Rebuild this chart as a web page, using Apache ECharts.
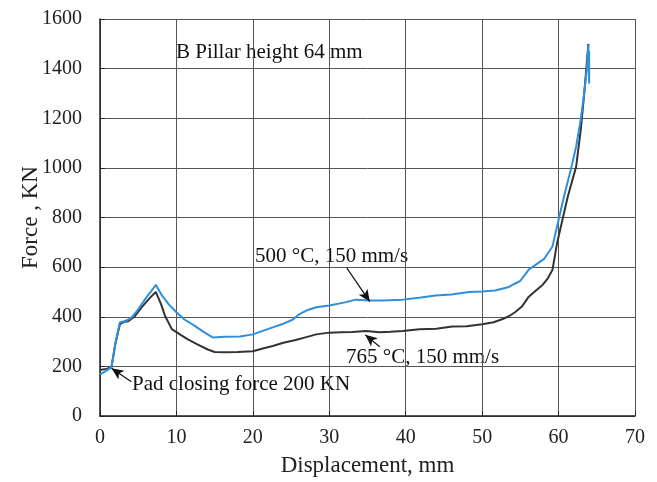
<!DOCTYPE html>
<html><head><meta charset="utf-8">
<script src="https://cdn.jsdelivr.net/npm/echarts@6/dist/echarts.min.js"></script>
<style>html,body{margin:0;padding:0;background:#fff}#c{width:657px;height:482px}</style>
</head><body><div id="c"></div>
<script>
var xTicks = [0, 10, 20, 30, 40, 50, 60, 70];
var yTicks = [0, 200, 400, 600, 800, 1000, 1200, 1400, 1600];
var series500 = [[0,168],[0.8,182],[1.5,197],[2.0,290],[2.6,377],[3.2,382],[3.7,388],[4.1,395],[5,430],[6,475],[7,515],[7.3,529],[8.1,486],[9,450],[10,418],[11,390],[12.4,363],[13.5,340],[14.8,316],[16.3,319],[18.3,320],[20,329],[21,340],[22.6,357],[24,372],[25.2,388],[26.1,411],[27,425],[28.3,438],[30,445],[32.2,459],[33.5,469],[35.3,465],[37,465],[39.6,469],[42,478],[43.9,486],[46,490],[48.3,500],[50,502],[51.7,506],[53.5,520],[54.2,532],[55,545],[56.1,590],[56.8,605],[58.1,633],[59.2,683],[60,790],[60.7,884],[61.6,992],[62.3,1086],[62.9,1194],[63.3,1288],[63.7,1400],[63.9,1496],[64.0,1340],[64.0,1470]];
var series765 = [[0,185],[0.8,190],[1.5,197],[2.0,290],[2.6,370],[3.2,380],[3.7,382],[4.5,400],[5.5,440],[6.5,475],[7.3,500],[8,450],[8.5,404],[9.4,350],[10.5,328],[11.5,309],[12.8,288],[14.1,268],[15,258],[16.3,257],[18,258],[20,261],[21.3,272],[22.6,282],[24,295],[25.6,306],[27,318],[28.3,329],[30,336],[31.5,338],[33,339],[34.8,343],[36.6,338],[38,340],[39.6,343],[41.8,350],[44,352],[46.1,361],[48,362],[50,370],[51.5,378],[52.6,390],[53.5,402],[54.3,418],[55.2,441],[56.1,481],[57,505],[57.9,528],[58.6,555],[59.2,589],[59.8,696],[60.5,790],[61.2,884],[62.3,1005],[62.9,1153],[63.4,1314],[63.9,1500]];
var labels = {title: 'B Pillar height 64 mm', s500: '500 °C, 150 mm/s', s765: '765 °C, 150 mm/s', pad: 'Pad closing force 200 KN'};
var arrows = {
  s500: [[32.3, 596], [35.3, 461]],
  s765: [[36.6, 279], [34.7, 327]],
  pad: [[4.1, 138], [1.5, 192]]
};
var FONT = '"Liberation Serif", "Times New Roman", serif';
var chart = echarts.init(document.getElementById('c'));
function arrowLine(a) {
  return [{coord: a[0], symbol: 'none'}, {coord: a[1], symbol: 'arrow', symbolSize: [8, 12]}];
}
chart.setOption({
  animation: false,
  backgroundColor: '#fff',
  grid: {left: 100, right: 22, top: 19, bottom: 66},
  xAxis: {
    type: 'value', min: 0, max: 70, interval: 10,
    name: 'Displacement, mm', nameLocation: 'middle', nameGap: 38,
    nameTextStyle: {fontFamily: FONT, fontSize: 23, color: '#222'},
    axisLine: {show: true, lineStyle: {color: '#222', width: 1.5}},
    axisTick: {show: true, inside: true, length: 5, lineStyle: {color: '#222'}},
    axisLabel: {fontFamily: FONT, fontSize: 20, color: '#222', margin: 12, formatter: function(v){return xTicks.indexOf(v) >= 0 ? String(v) : '';}},
    splitLine: {show: true, lineStyle: {color: '#555', width: 1}}
  },
  yAxis: {
    type: 'value', min: 0, max: 1600, interval: 200,
    name: 'Force , KN', nameLocation: 'middle', nameGap: 58, nameRotate: 90, nameMoveOverlap: false,
    nameTextStyle: {fontFamily: FONT, fontSize: 23, color: '#222'},
    axisLine: {show: true, lineStyle: {color: '#222', width: 1.5}},
    axisTick: {show: true, inside: true, length: 5, lineStyle: {color: '#222'}},
    axisLabel: {fontFamily: FONT, fontSize: 20, color: '#222', margin: 18, formatter: function(v){return yTicks.indexOf(v) >= 0 ? String(v) : '';}},
    splitLine: {show: true, lineStyle: {color: '#555', width: 1}}
  },
  series: [
    {
      name: '765', type: 'line', data: series765, showSymbol: false,
      lineStyle: {color: '#333', width: 2}, z: 3,
      markLine: {silent: true, symbol: ['none', 'arrow'], lineStyle: {color: '#111', width: 1.2, type: 'solid'}, label: {show: false},
        data: [arrowLine(arrows.s765), arrowLine(arrows.pad)]}
    },
    {
      name: '500', type: 'line', data: series500, showSymbol: false,
      lineStyle: {color: '#2f8fdc', width: 2}, z: 4,
      markLine: {silent: true, symbol: ['none', 'arrow'], lineStyle: {color: '#111', width: 1.2, type: 'solid'}, label: {show: false},
        data: [arrowLine(arrows.s500)]}
    }
  ],
  graphic: [
    {type: 'text', left: 176, top: 42, style: {text: labels.title, font: '21px ' + FONT, fill: '#111'}},
    {type: 'text', left: 255, top: 246, style: {text: labels.s500, font: '21px ' + FONT, fill: '#111'}},
    {type: 'text', left: 346, top: 347, style: {text: labels.s765, font: '21px ' + FONT, fill: '#111'}},
    {type: 'text', left: 132, top: 374, style: {text: labels.pad, font: '21px ' + FONT, fill: '#111'}}
  ]
});
</script></body></html>
